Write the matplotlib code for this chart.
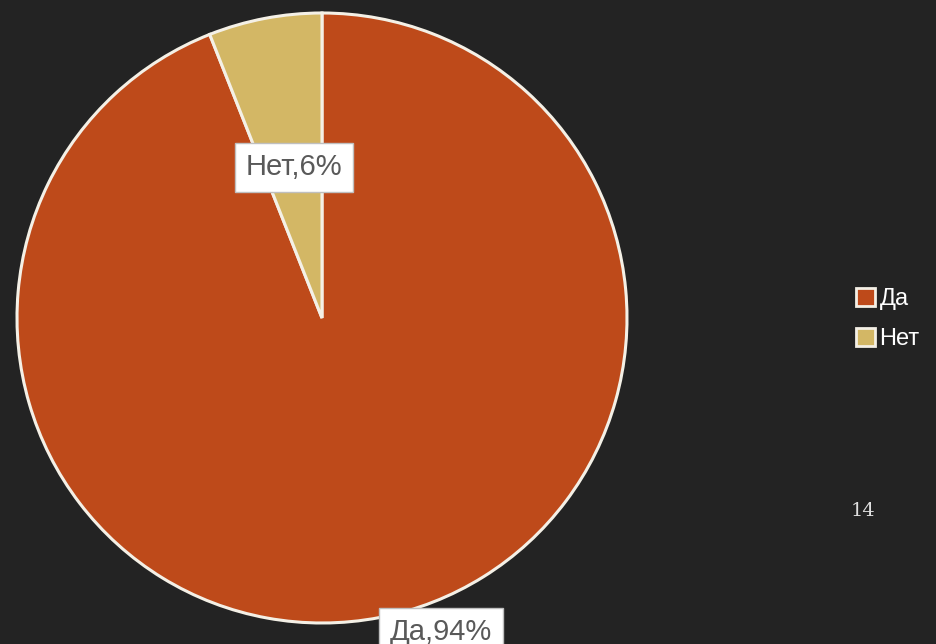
import matplotlib.pyplot as plt
from matplotlib.patches import Patch

categories = ['Да', 'Нет']
shares = [94, 6]
colors = ['#BE4A1A', '#D3B765']
# where each data label sits, in pie units (radius = 1)
label_pos = [(0.39, -1.03), (-0.092, 0.495)]

bg = '#232323'
fig = plt.figure(figsize=(9.36, 6.44), dpi=100, facecolor=bg)
ax = fig.add_axes([17 / 936, 21 / 644, 610 / 936, 610 / 644])
ax.set_facecolor(bg)

wedges, _ = ax.pie(shares, colors=colors, startangle=90, counterclock=False,
                   radius=1.0,
                   wedgeprops=dict(edgecolor='#F4F0E6', linewidth=2.2))
ax.set_xlim(-1, 1)
ax.set_ylim(-1, 1)
ax.set_aspect('equal')
ax.axis('off')

for cat, val, (x, y) in zip(categories, shares, label_pos):
    ax.text(x, y, f'{cat},{val}%', ha='center', va='center', fontsize=21,
            color='#595959', family='Liberation Sans', clip_on=False,
            bbox=dict(boxstyle='square,pad=0.36', facecolor='white',
                      edgecolor='#BFBFBF', linewidth=1))

handles = [Patch(facecolor=c, edgecolor='#F4F0E6', linewidth=2) for c in colors]
leg = fig.legend(handles, categories, loc='upper left',
                 bbox_to_anchor=(856 / 936, 1 - 288 / 644), frameon=False,
                 prop=dict(family='Liberation Sans', size=17),
                 labelcolor='white', handlelength=0.8,
                 handleheight=0.8, handletextpad=0.2, labelspacing=0.75,
                 borderaxespad=0, borderpad=0)

fig.text(851 / 936, 1 - 511 / 644, '14', fontsize=14, color='#E0E0E0',
         family='DejaVu Serif', va='center', ha='left')

fig.savefig('out.png', dpi=100, facecolor=bg)
